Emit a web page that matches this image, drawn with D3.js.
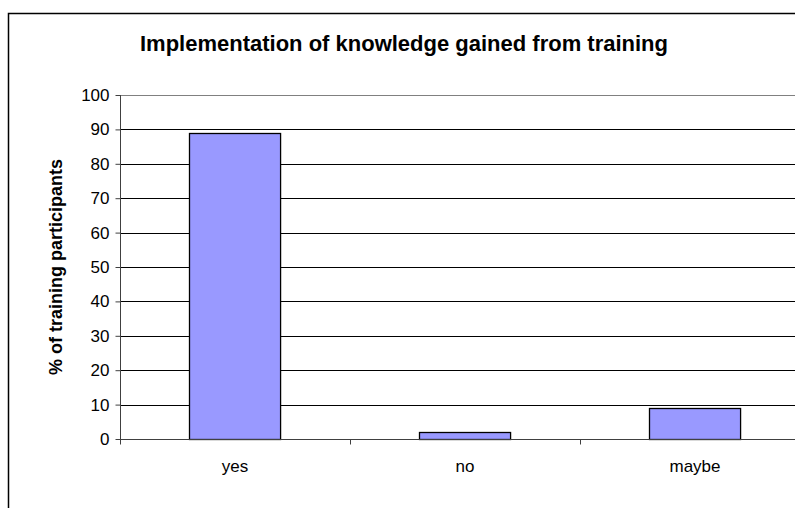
<!DOCTYPE html>
<html>
<head>
<meta charset="utf-8">
<script src="https://cdn.jsdelivr.net/npm/d3@7"></script>
<style>
  body { margin: 0; background: #fff; }
  svg text { font-family: "Liberation Sans", Arial, sans-serif; fill: #000; }
</style>
</head>
<body>
<div id="chart"></div>
<script>
// chart data
const categories = ["yes", "no", "maybe"];
const values = [89, 2, 9];
const yTicks = [0, 10, 20, 30, 40, 50, 60, 70, 80, 90, 100];
const titleText = "Implementation of knowledge gained from training";
const yLabelText = "% of training participants";

const W = 795, H = 508;
const plot = {left: 120, top: 95, right: 810, bottom: 439};

const svg = d3.select("#chart").append("svg")
    .attr("width", W)
    .attr("height", H);

// outer chart border (runs off the right/bottom edge)
svg.append("rect")
    .attr("x", 8.5).attr("y", 13.5)
    .attr("width", W + 20).attr("height", H + 20)
    .attr("fill", "#fff")
    .attr("stroke", "#000")
    .attr("stroke-width", 1.5);

const x = d3.scaleBand()
    .domain(categories)
    .range([plot.left, plot.right])
    .paddingInner(0.604)
    .paddingOuter(0.302);

const y = d3.scaleLinear()
    .domain([0, 100])
    .range([plot.bottom, plot.top]);

// gridlines
svg.append("g")
    .selectAll("line")
    .data(yTicks.filter(d => d > 0))
    .enter()
    .append("line")
    .attr("x1", plot.left).attr("x2", plot.right)
    .attr("y1", d => Math.round(y(d)) + 0.5)
    .attr("y2", d => Math.round(y(d)) + 0.5)
    .attr("stroke", d => d === 100 ? "#808080" : "#000")
    .attr("stroke-width", 1);

// bars
svg.append("g")
    .selectAll("rect")
    .data(values)
    .enter()
    .append("rect")
    .attr("x", (d, i) => Math.round(x(categories[i])) + 0.5)
    .attr("width", x.bandwidth())
    .attr("y", d => Math.round(y(d)) + 0.5)
    .attr("height", d => Math.round(y(0)) - Math.round(y(d)))
    .attr("fill", "#9999ff")
    .attr("stroke", "#000")
    .attr("stroke-width", 1.3);

// y axis
const yAxis = svg.append("g")
    .attr("transform", `translate(${plot.left + 0.5},0)`)
    .call(d3.axisLeft(y).tickValues(yTicks).tickSize(5).tickPadding(6));
yAxis.selectAll("path, line").attr("stroke", "#404040");
yAxis.select(".domain").attr("d", `M0,${plot.top}V${plot.bottom}`);
yAxis.selectAll("text")
    .style("font-size", "17px")
    .style("font-family", "'Liberation Sans', Arial, sans-serif")
    .attr("fill", "#000");

// x axis with ticks between categories
const boundaries = categories.map((c, i) => plot.left + x.step() * i);
const xAxis = svg.append("g")
    .attr("transform", `translate(0,${Math.round(y(0)) + 0.5})`);
xAxis.append("line")
    .attr("x1", plot.left).attr("x2", plot.right)
    .attr("stroke", "#404040");
xAxis.selectAll(".tk")
    .data(boundaries)
    .enter()
    .append("line")
    .attr("class", "tk")
    .attr("x1", d => Math.round(d) + 0.5).attr("x2", d => Math.round(d) + 0.5)
    .attr("y1", 0).attr("y2", 5)
    .attr("stroke", "#404040");
xAxis.selectAll("text")
    .data(categories)
    .enter()
    .append("text")
    .attr("x", d => x(d) + x.bandwidth() / 2)
    .attr("y", 32)
    .attr("text-anchor", "middle")
    .style("font-size", "17px")
    .text(d => d);

// title
svg.append("text")
    .attr("x", 404)
    .attr("y", 51)
    .attr("text-anchor", "middle")
    .style("font-size", "22px")
    .style("font-weight", "bold")
    .text(titleText);

// y label
svg.append("text")
    .attr("transform", `translate(62,${(plot.top + plot.bottom) / 2}) rotate(-90)`)
    .attr("text-anchor", "middle")
    .style("font-size", "18px")
    .style("font-weight", "bold")
    .text(yLabelText);
</script>
</body>
</html>
